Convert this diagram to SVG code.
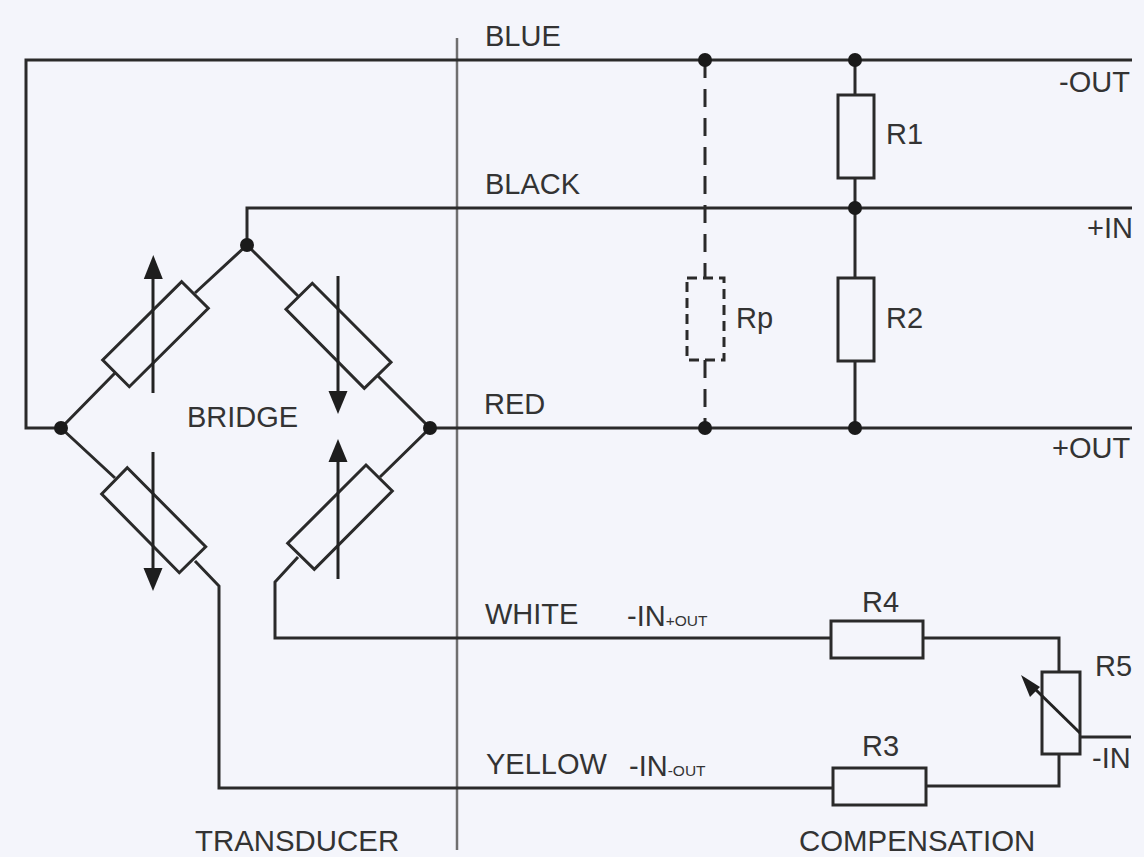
<svg xmlns="http://www.w3.org/2000/svg" width="1144" height="857" viewBox="0 0 1144 857">
<style>
.w{fill:none;stroke:#2a2a2a;stroke-width:3}
.d{fill:none;stroke:#2a2a2a;stroke-width:3;stroke-dasharray:18 11}
.v{fill:none;stroke:#6f6f6f;stroke-width:2.5}
.r{fill:#f4f5fb;stroke:#2a2a2a;stroke-width:3;stroke-linejoin:miter}
.a{fill:none;stroke:#222;stroke-width:3}
.h{fill:#1e1e1e}
.j{fill:#1a1a1a}
text{font-family:"Liberation Sans",Arial,sans-serif;font-size:29px;fill:#333}
.s{font-size:15.5px}
.b{font-size:29.4px}
</style>
<rect width="1144" height="857" fill="#f4f5fb"/>
<g id="connectors">
<path class="v" d="M457 38V850"/>
<path class="w" d="M1132 60H26V428H61"/>
<path class="w" d="M1132 208H247V245"/>
<path class="w" d="M430 428H1132"/>
<path class="w" d="M855 60V428"/>
<path class="d" d="M705 60V278M705 360V428"/>
<path class="w" d="M61 428L115 373M195 293L247 245L299 297M378 376L430 428L380 477M298 557L275 582V638H831M923 638H1059V672M1059 754V786H926M833 788H219V586L195 561M115 478L61 428"/>
<path class="w" d="M1080 737H1131"/>
</g>
<g id="bridge-r1"><polygon class="r" points="181.7,281.7 208.3,308.3 129.3,386.7 102.7,360"/><path class="a" d="M153 393V275"/><path class="h" d="M153.3 255L143.8 279H162.8Z"/></g>
<g id="bridge-r2"><polygon class="r" points="312.3,283.3 391,362.3 364.3,388.3 286,309.3"/><path class="a" d="M338 276V395"/><path class="h" d="M338 414L328.5 391H347.5Z"/></g>
<g id="bridge-r3"><polygon class="r" points="127.3,467.7 205.7,546.7 179.3,572.7 101.7,494"/><path class="a" d="M153 452V572"/><path class="h" d="M153 591L143.5 568H162.5Z"/></g>
<g id="bridge-r4"><polygon class="r" points="366,465 392.3,491 314.3,569.3 287.7,543.3"/><path class="a" d="M338 579V458"/><path class="h" d="M338 439L328.5 462H347.5Z"/></g>
<g id="r1"><rect class="r" x="838" y="95" width="36" height="83"/><text x="886" y="144">R1</text></g>
<g id="r2"><rect class="r" x="838" y="278" width="36" height="83"/><text x="886" y="328">R2</text></g>
<g id="rp"><rect class="r" x="687" y="278" width="37" height="82" stroke-dasharray="10 6"/><text x="736" y="328">Rp</text></g>
<g id="r4"><rect class="r" x="831" y="621" width="92" height="37"/><text x="862" y="612">R4</text></g>
<g id="r3"><rect class="r" x="833" y="768" width="93" height="37"/><text x="862" y="756">R3</text></g>
<g id="r5"><rect class="r" x="1042" y="672" width="38" height="82"/><path class="a" d="M1080 733L1034 688"/><path class="h" d="M1021 675L1040 687L1030 697Z"/><text x="1095" y="676">R5</text></g>
<g id="junctions">
<circle class="j" cx="705" cy="60" r="7"/><circle class="j" cx="855" cy="60" r="7"/><circle class="j" cx="855" cy="208" r="7"/><circle class="j" cx="247" cy="245" r="7"/><circle class="j" cx="61" cy="428" r="7"/><circle class="j" cx="430" cy="428" r="7"/><circle class="j" cx="705" cy="428" r="7"/><circle class="j" cx="855" cy="428" r="7"/>
</g>
<g id="labels">
<text x="485" y="46">BLUE</text><text x="485" y="194">BLACK</text><text x="484" y="414">RED</text><text x="485" y="624">WHITE</text><text x="486" y="774">YELLOW</text>
<text x="187" y="427">BRIDGE</text>
<text x="1059" y="92">-OUT</text><text x="1087" y="238">+IN</text><text x="1052" y="458">+OUT</text><text x="1092" y="768">-IN</text>
<text x="627" y="626">-IN<tspan class="s">+OUT</tspan></text>
<text x="629" y="776">-IN<tspan class="s">-OUT</tspan></text>
<text class="b" x="195" y="850.5">TRANSDUCER</text><text class="b" x="799" y="850.5">COMPENSATION</text>
</g>
</svg>
